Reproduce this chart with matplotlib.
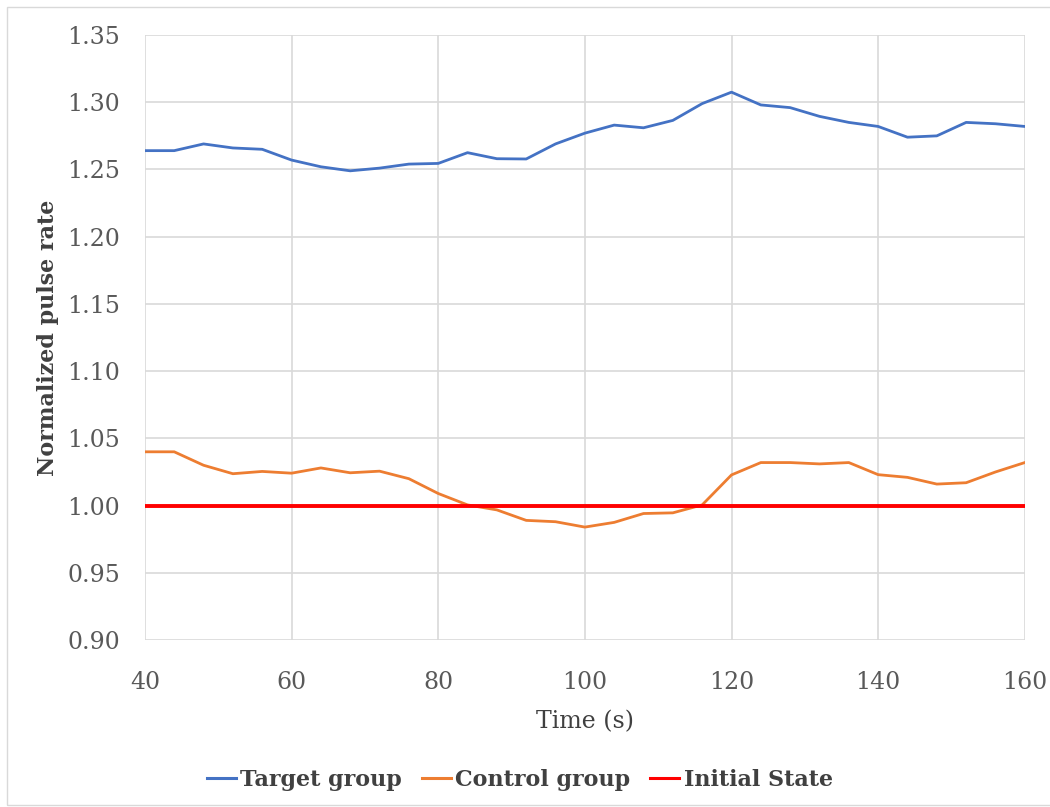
import matplotlib
matplotlib.use("Agg")
import matplotlib.pyplot as plt
from matplotlib.patches import Rectangle

time_s = list(range(40, 161, 4))
target_group = [1.264, 1.264, 1.269, 1.266, 1.265, 1.257, 1.252, 1.249, 1.251, 1.254,
                1.2545, 1.2625, 1.258, 1.2578, 1.269, 1.277, 1.283, 1.281, 1.2865, 1.299,
                1.3075, 1.298, 1.296, 1.2895, 1.285, 1.282, 1.274, 1.275, 1.285, 1.284, 1.282]
control_group = [1.040, 1.040, 1.030, 1.0237, 1.0254, 1.0241, 1.028, 1.0244, 1.0256, 1.020,
                 1.009, 1.0005, 0.9968, 0.989, 0.988, 0.984, 0.9875, 0.9941, 0.9946, 1.0005,
                 1.0228, 1.032, 1.032, 1.031, 1.032, 1.023, 1.021, 1.016, 1.017, 1.025, 1.032]
initial_state = [1.0] * len(time_s)
y_ticks = [0.90, 0.95, 1.00, 1.05, 1.10, 1.15, 1.20, 1.25, 1.30, 1.35]
x_ticks = [40, 60, 80, 100, 120, 140, 160]

plt.rcParams['font.family'] = ['DejaVu Serif']
fig = plt.figure(figsize=(10.5, 8.07), dpi=100)
ax = fig.add_axes([0.138, 0.2069, 0.838, 0.7497])

ax.plot(time_s, target_group, color='#4472c4', lw=2.0, label='Target group', zorder=3)
ax.plot(time_s, control_group, color='#ed7d31', lw=2.0, label='Control group', zorder=3)
ax.plot(time_s, initial_state, color='#ff0000', lw=2.8, label='Initial State', zorder=4)

ax.set_xlim(40, 160)
ax.set_ylim(0.90, 1.35)
ax.set_xticks(x_ticks)
ax.set_yticks(y_ticks)
ax.set_yticklabels([f"{v:.2f}" for v in y_ticks])
ax.grid(True, color='#d9d9d9', lw=1.2)
ax.set_axisbelow(True)
for s in ax.spines.values():
    s.set_visible(False)
ax.tick_params(axis='y', length=0, labelsize=17, colors='#595959', pad=18)
ax.tick_params(axis='x', length=0, labelsize=17, colors='#595959', pad=22)
ax.set_xlabel('Time (s)', fontsize=17, color='#404040', labelpad=12)
ax.set_ylabel('Normalized pulse rate', fontsize=16, fontweight='bold', color='#404040', labelpad=6)

leg = fig.legend(loc='center', bbox_to_anchor=(0.495, 0.034), ncol=3, frameon=False,
                 prop={'size': 16, 'weight': 'bold'}, handlelength=1.3, handletextpad=0.2,
                 columnspacing=0.9, labelcolor='#404040')
for h in leg.get_lines():
    h.set_linewidth(2.2)
fig.patches.append(Rectangle((0.007, 0.002), 0.995, 0.989, transform=fig.transFigure,
                             fill=False, edgecolor='#d9d9d9', lw=1.0))
fig.savefig('out.png', dpi=100)
